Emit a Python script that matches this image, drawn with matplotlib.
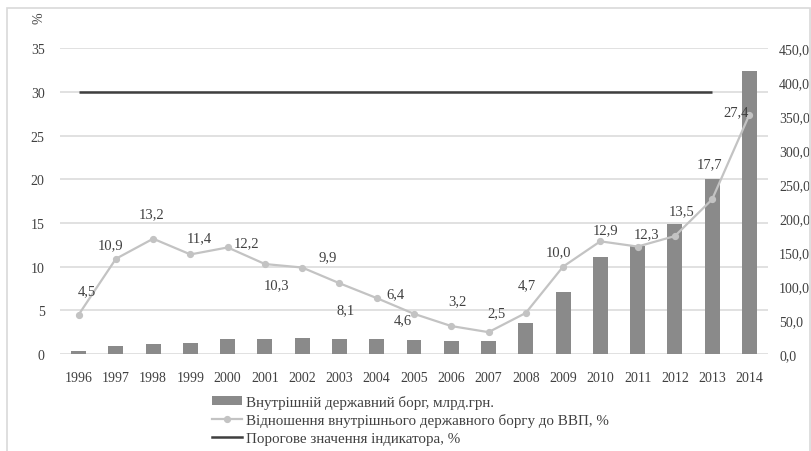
import numpy as np
import matplotlib
matplotlib.use("Agg")
import matplotlib.pyplot as plt
from matplotlib.lines import Line2D
from matplotlib.patches import Patch, Rectangle

plt.rcParams["font.family"] = ["Liberation Serif", "DejaVu Serif"]

years = ["1996", "1997", "1998", "1999", "2000", "2001", "2002", "2003", "2004", "2005",
         "2006", "2007", "2008", "2009", "2010", "2011", "2012", "2013", "2014"]
debt_bn = [5.0, 12.5, 15.0, 16.5, 22.0, 22.0, 24.0, 22.0, 22.0, 21.0,
           19.5, 19.5, 46.0, 91.0, 143.0, 159.0, 192.0, 257.0, 417.0]
debt_to_gdp = [4.5, 10.9, 13.2, 11.4, 12.2, 10.3, 9.9, 8.1, 6.4, 4.6,
               3.2, 2.5, 4.7, 10.0, 12.9, 12.3, 13.5, 17.7, 27.4]
threshold_years = years[:-1]
threshold_value = 30
# label offsets (pixels) from each point of the ratio line
label_offsets = [(8, 24), (-5, 14), (-2, 25), (9, 17), (19, 5), (12, -21), (25, 11),
                 (6, -26), (19, 4), (-11, -6), (6, 25), (8, 19), (1, 28), (-5, 15),
                 (5, 12), (9, 13), (7, 25), (-3, 36), (-13, 3)]

left_ticks = [0, 5, 10, 15, 20, 25, 30, 35]
right_ticks = [0, 50, 100, 150, 200, 250, 300, 350, 400, 450]

TEXT = "#404040"
GRID = "#d9d9d9"
BAR = "#8a8a8a"
LINE = "#c3c3c3"
THRESH = "#3f3f3f"
FS = 10
FS_LABEL = 10.5
FS_LEGEND = 10.8

W, H = 812, 452
fig = plt.figure(figsize=(W / 100, H / 100), dpi=100)
fig.patches.append(Rectangle((7 / W, -0.05), (810 - 7) / W, 1.05 - 9 / H,
                             transform=fig.transFigure, fill=False,
                             edgecolor=GRID, linewidth=1.2))

rect = [60 / W, 1 - 355 / H, (768 - 60) / W, (355 - 49.3) / H]
x = np.arange(len(years))

# left percentage axis with gridlines (bottom layer)
ax = fig.add_axes(rect, zorder=0)
ax.set_xlim(-0.5, len(years) - 0.5)
ax.set_ylim(0, 35)
ax.set_yticks(left_ticks)
ax.set_yticklabels([str(t) for t in left_ticks])
ax.set_xticks(x)
ax.set_xticklabels(years)
ax.yaxis.grid(True, color=GRID, linewidth=1.1)
ax.set_axisbelow(True)
for s in ax.spines.values():
    s.set_visible(False)
ax.tick_params(axis="both", length=0, labelsize=FS, colors=TEXT)
ax.tick_params(axis="y", pad=11)
ax.tick_params(axis="x", pad=12)

# debt volume bars on the right axis
axb = fig.add_axes(rect, zorder=1, sharex=ax)
axb.patch.set_visible(False)
axb.bar(x, debt_bn, width=0.4, color=BAR)
axb.set_ylim(0, 450)
axb.set_yticks(right_ticks)
axb.set_yticklabels([f"{t:.1f}".replace(".", ",") for t in right_ticks])
axb.yaxis.tick_right()
axb.tick_params(axis="y", length=0, labelsize=FS, colors=TEXT, pad=8)
axb.tick_params(axis="x", bottom=False, labelbottom=False)
for s in axb.spines.values():
    s.set_visible(False)

# ratio line and threshold (top layer)
axl = fig.add_axes(rect, zorder=2, sharex=ax, sharey=ax)
axl.patch.set_visible(False)
axl.axis("off")
axl.plot(x[:len(threshold_years)], [threshold_value] * len(threshold_years),
         color=THRESH, linewidth=1.8, solid_capstyle="butt")
axl.plot(x, debt_to_gdp, color=LINE, linewidth=1.6, marker="o", markersize=4.2)
for xi, v, (dx, dy) in zip(x, debt_to_gdp, label_offsets):
    axl.annotate(f"{v:.1f}".replace(".", ","), (xi, v), xytext=(dx, dy),
                 textcoords="offset pixels", ha="center", va="center",
                 fontsize=FS_LABEL, color=TEXT)

fig.text(39 / W, 1 - 18 / H, "%", rotation=90, ha="center", va="center",
         fontsize=FS, color=TEXT)

handles = [
    Patch(facecolor=BAR, edgecolor="none"),
    Line2D([], [], color=LINE, linewidth=1.6, marker="o", markersize=4.2),
    Line2D([], [], color=THRESH, linewidth=1.8),
]
labels = [
    "Внутрішній державний борг, млрд.грн.",
    "Відношення внутрішнього державного боргу до ВВП, %",
    "Порогове значення індикатора, %",
]
fig.legend(handles, labels, loc="upper left",
           bbox_to_anchor=(212 / W, 1 - 396 / H), frameon=False,
           fontsize=FS_LEGEND, labelcolor=TEXT, handlelength=2.0, handleheight=0.6,
           handletextpad=0.3, labelspacing=0.3, borderpad=0, borderaxespad=0)

fig.savefig("out.png", dpi=100)
